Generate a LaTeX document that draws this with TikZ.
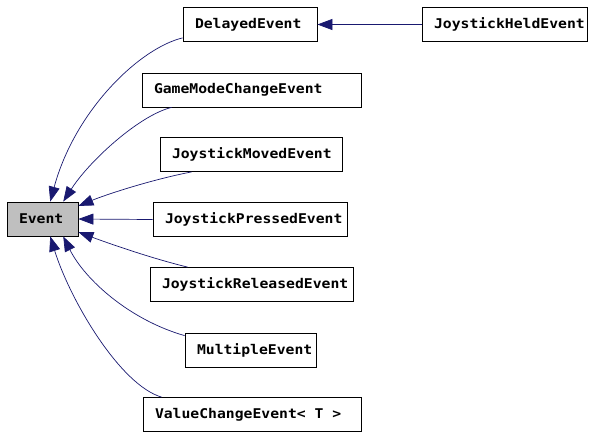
\documentclass[tikz,border=0pt]{standalone}
\usepackage{fontspec}
\newfontfamily\classfont[FakeStretch=1.1]{DejaVu Sans Mono}
\usetikzlibrary{arrows.meta}
\definecolor{edgenavy}{RGB}{25,25,112}
\definecolor{basegray}{RGB}{191,191,191}

\begin{document}
\begin{tikzpicture}[x=1pt,y=-1pt,
  cls/.style={draw=black,line width=.8pt,fill=white,inner xsep=12pt,inner ysep=0pt,
    minimum height=34pt,align=left,
    font=\classfont\bfseries\fontsize{13.4}{15}\selectfont},
  base/.style={cls,fill=basegray},
  inherit/.style={-{Triangle[length=15pt,width=11pt]},draw=edgenavy,line width=.7pt}]

\path[use as bounding box] (0,0) rectangle (594,437);

\node[base,text width=47pt] (event) at (42.5,219) {Event};
\node[cls,text width=110pt] (delayed) at (250,24.5) {DelayedEvent};
\node[cls,text width=141pt] (held) at (504.5,24.5) {JoystickHeldEvent};
\node[cls,text width=195pt] (gamemode) at (251.5,90) {GameModeChangeEvent};
\node[cls,text width=158pt] (moved) at (251,154.5) {JoystickMovedEvent};
\node[cls,text width=170pt] (pressed) at (250,219.5) {JoystickPressedEvent};
\node[cls,text width=179pt] (released) at (251.5,284.5) {JoystickReleasedEvent};
\node[cls,text width=107pt] (multiple) at (250.5,350) {MultipleEvent};
\node[cls,text width=194pt] (valuechange) at (252,414.5) {\mbox{ValueChangeEvent<\phantom{x}T\phantom{x}>}};

\draw[inherit] (held.west) -- (delayed.east);
\draw[inherit] ([yshift=4pt]delayed.south west) .. controls (140,48) and (75,110) .. (event.66);
\draw[inherit] ([xshift=30pt]gamemode.south west) .. controls (140,115) and (90,160) .. (event.40);
\draw[inherit] ([xshift=32pt]moved.south west) .. controls (150,180) and (105,195) .. (event.20);
\draw[inherit] (pressed.west) -- (event.east);
\draw[inherit] ([xshift=38pt]released.north west) .. controls (150,258) and (105,242) .. (event.-20);
\draw[inherit] ([yshift=-3pt]multiple.north west) .. controls (130,320) and (85,280) .. (event.-40);
\draw[inherit] ([xshift=19pt]valuechange.north west) .. controls (120,385) and (70,300) .. (event.-66);

\end{tikzpicture}
\end{document}
